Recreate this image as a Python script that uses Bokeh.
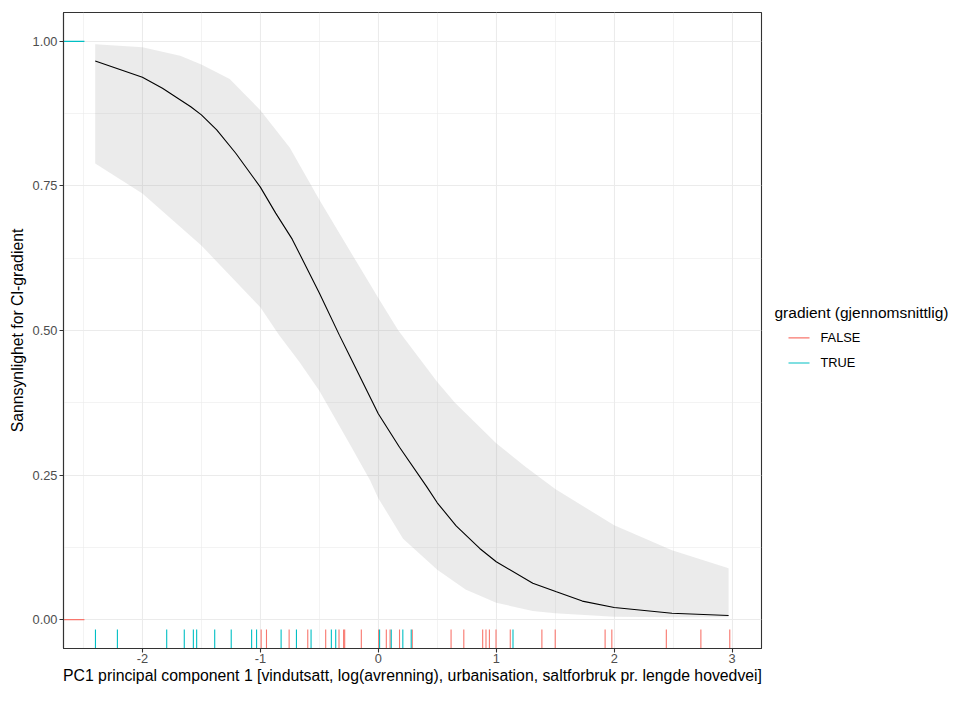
from bokeh.plotting import figure
from bokeh.models import ColumnDataSource, Range1d, FixedTicker
from bokeh.layouts import row
from bokeh.embed import file_html
from bokeh.resources import INLINE
from bokeh.core.properties import value

# ---------------- data ----------------
x_ticks = [-2, -1, 0, 1, 2, 3]
x_tick_labels = ["-2", "-1", "0", "1", "2", "3"]
x_minor = [-2.5, -1.5, -0.5, 0.5, 1.5, 2.5]
y_ticks = [0.0, 0.25, 0.5, 0.75, 1.0]
y_tick_labels = ["0.00", "0.25", "0.50", "0.75", "1.00"]
y_minor = [0.125, 0.375, 0.625, 0.875]

# fitted probability curve
curve_x = [-2.40, -2.0, -1.83, -1.59, -1.5, -1.37, -1.21, -1.0, -0.87, -0.73,
           -0.5, -0.33, -0.24, 0.0, 0.18, 0.41, 0.5, 0.66, 0.86, 1.0,
           1.31, 1.51, 1.73, 2.0, 2.49, 2.97]
curve_y = [0.966, 0.938, 0.919, 0.887, 0.873, 0.847, 0.807, 0.748, 0.703, 0.658,
           0.565, 0.492, 0.455, 0.356, 0.298, 0.230, 0.202, 0.162, 0.123, 0.100,
           0.063, 0.048, 0.032, 0.021, 0.011, 0.007]

# confidence band
upper_x = [-2.40, -2.0, -1.68, -1.5, -1.26, -1.0, -0.75, -0.5, -0.25, 0.0,
           0.17, 0.5, 0.65, 1.0, 1.25, 1.5, 2.0, 2.49, 2.97]
upper_y = [0.995, 0.990, 0.975, 0.960, 0.935, 0.881, 0.816, 0.726, 0.641, 0.556,
           0.500, 0.411, 0.375, 0.305, 0.264, 0.226, 0.163, 0.120, 0.089]
lower_x = [-2.40, -2.0, -1.5, -1.0, -0.84, -0.67, -0.5, -0.24, -0.07, 0.0,
           0.21, 0.5, 0.74, 1.0, 1.31, 1.5, 2.0, 2.5, 2.97]
lower_y = [0.789, 0.737, 0.647, 0.540, 0.492, 0.446, 0.396, 0.303, 0.241, 0.210,
           0.140, 0.086, 0.052, 0.029, 0.015, 0.011, 0.005, 0.004, 0.004]

# observations (rug)
false_x = [-0.993, -0.948, -0.756, -0.598, -0.446, -0.333, -0.294, -0.285, -0.144,
           0.003, 0.068, 0.100, 0.180, 0.288, 0.617, 0.725, 0.885, 0.913, 0.942,
           0.998, 1.119, 1.387, 1.500, 1.923, 1.980, 2.442, 2.735, 2.980]
true_x = [-2.398, -2.212, -1.794, -1.645, -1.568, -1.540, -1.387, -1.247, -1.074,
          -1.032, -0.824, -0.694, -0.570, -0.398, -0.361, 0.011, 0.110, 0.208,
          0.279, 1.142]
false_value = 0.0
true_value = 1.0

legend_title = "gradient (gjennomsnittlig)"
legend_labels = ["FALSE", "TRUE"]
x_title = "PC1 principal component 1 [vindutsatt, log(avrenning), urbanisation, saltforbruk pr. lengde hovedvei]"
y_title = "Sannsynlighet for Cl-gradient"

col_false = "#F8766D"
col_true = "#00BFC4"
legend_colors = [col_false, col_true]
FONT = "Liberation Sans"
TICK_FS = "12.8px"
TITLE_FS = "15.8px"

# ---------------- layout ----------------
W, H = 953, 686
MAIN_W = 764
LEG_W = W - MAIN_W

# ---------------- ranges (ggplot-like 5% expansion) ----------------
all_x = false_x + true_x + curve_x
x_lo, x_hi = min(all_x), max(all_x)
x_pad = 0.05 * (x_hi - x_lo)
x_start, x_end = x_lo - x_pad, x_hi + x_pad
y_lo, y_hi = 0.0, 1.0
y_pad = 0.05 * (y_hi - y_lo)
y_start, y_end = y_lo - y_pad, y_hi + y_pad
rug_frac = 0.03
rug_len_y = rug_frac * (y_end - y_start)
rug_len_x = rug_frac * (x_end - x_start)

p = figure(width=MAIN_W, height=H, output_backend="svg", toolbar_location=None,
           x_range=Range1d(x_start, x_end), y_range=Range1d(y_start, y_end),
           min_border_left=63, min_border_right=3, min_border_top=12,
           min_border_bottom=0)
p.background_fill_color = "white"
p.border_fill_color = "white"
p.outline_line_color = "#333333"
p.outline_line_width = 1.1

# axes
p.xaxis.ticker = FixedTicker(ticks=x_ticks, minor_ticks=x_minor)
p.yaxis.ticker = FixedTicker(ticks=y_ticks, minor_ticks=y_minor)
p.xaxis.major_label_overrides = {t: s for t, s in zip(x_ticks, x_tick_labels)}
p.yaxis.major_label_overrides = {t: s for t, s in zip(y_ticks, y_tick_labels)}
for ax in (p.xaxis, p.yaxis):
    ax.axis_line_color = "#333333"
    ax.axis_line_width = 1.1
    ax.major_tick_line_color = "#333333"
    ax.major_tick_line_width = 1.1
    ax.major_tick_out = 4
    ax.major_tick_in = 0
    ax.minor_tick_out = 0
    ax.minor_tick_in = 0
    ax.major_label_text_font = FONT
    ax.major_label_text_font_size = TICK_FS
    ax.major_label_text_color = "#4D4D4D"
    ax.major_label_text_line_height = 1.0
    ax.axis_label_text_font = FONT
    ax.axis_label_text_font_size = TITLE_FS
    ax.axis_label_text_font_style = "normal"
    ax.axis_label_text_color = "black"
    ax.axis_label_text_line_height = 1.0
p.xaxis.axis_label = x_title
p.yaxis.axis_label = y_title
p.xaxis.major_label_standoff = 1
p.xaxis.axis_label_standoff = 1
p.yaxis.major_label_standoff = 2
p.yaxis.axis_label_standoff = 4

# grid
for g in (p.xgrid, p.ygrid):
    g.grid_line_color = "#EBEBEB"
    g.grid_line_width = 1.1
    g.minor_grid_line_color = "#EBEBEB"
    g.minor_grid_line_width = 0.6

# band and curve
band_x = upper_x + lower_x[::-1]
band_y = upper_y + lower_y[::-1]
p.patch(band_x, band_y, fill_color="#999999", fill_alpha=0.2, line_color=None)
p.line(curve_x, curve_y, line_color="black", line_width=1.1)

# rugs: x rug for every observation, y rug for each distinct response value
for xs, val, col in ((false_x, false_value, col_false), (true_x, true_value, col_true)):
    n = len(xs)
    bottom = ColumnDataSource(dict(x0=xs, y0=[y_start] * n, x1=xs, y1=[y_start + rug_len_y] * n))
    p.segment("x0", "y0", "x1", "y1", source=bottom, line_color=col, line_width=1.1)
    vals = sorted(set([val] * n))
    m = len(vals)
    left = ColumnDataSource(dict(x0=[x_start] * m, y0=vals, x1=[x_start + rug_len_x] * m, y1=vals))
    p.segment("x0", "y0", "x1", "y1", source=left, line_color=col, line_width=1.1)

# ---------------- legend panel (separate, axis-less figure in pixel units) ----------------
leg = figure(width=LEG_W, height=H, output_backend="svg", toolbar_location=None,
             x_range=Range1d(0, LEG_W), y_range=Range1d(H, 0),
             x_axis_type=None, y_axis_type=None,
             min_border=0, min_border_left=0, min_border_right=0,
             min_border_top=0, min_border_bottom=0)
leg.grid.visible = False
leg.outline_line_color = None
leg.background_fill_color = "white"
leg.border_fill_color = "white"

title_x, title_y = 10, 324
key_x0, key_x1, label_x = 24, 45, 56
row_y0, row_step = 351, 27
leg.text(x=[title_x], y=[title_y], text=[legend_title], text_font=value(FONT),
         text_font_size="15.5px", text_baseline="middle", text_align="left",
         text_color="black")
rows_y = [row_y0 + i * row_step for i in range(len(legend_labels))]
leg.segment(x0=[key_x0] * len(rows_y), y0=rows_y, x1=[key_x1] * len(rows_y), y1=rows_y,
            line_color=legend_colors, line_width=1.1)
leg.text(x=[label_x] * len(rows_y), y=rows_y, text=legend_labels, text_font=value(FONT),
         text_font_size=TICK_FS, text_baseline="middle", text_align="left",
         text_color="black")

layout = row(p, leg, spacing=0)
open("out.html", "w").write(file_html(layout, INLINE))
